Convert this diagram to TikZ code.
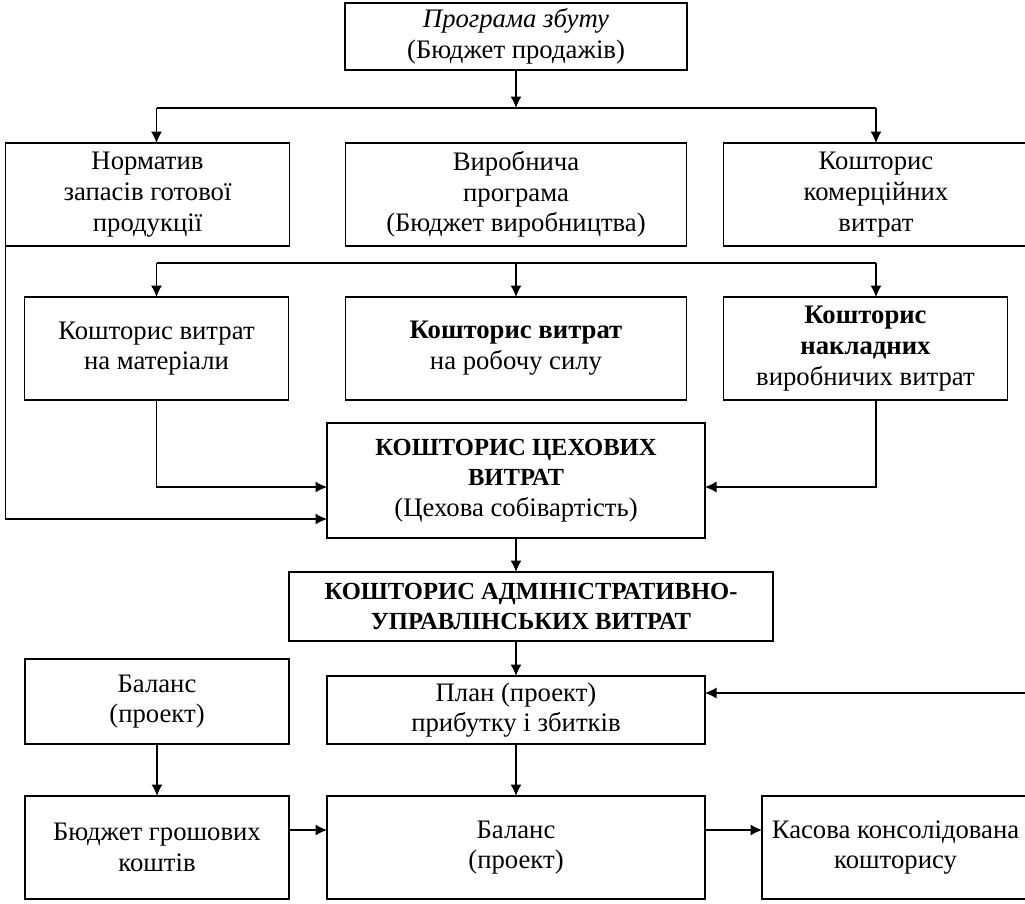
\documentclass[tikz,border=0pt]{standalone}
\usepackage{fontspec}
\setmainfont{Liberation Serif}
\usetikzlibrary{arrows.meta,positioning,calc}

\begin{document}
\begin{tikzpicture}[
    node distance=1cm and 1cm,
    box/.style={rectangle, draw=black, fill=white, align=center, inner sep=2pt, outer sep=0pt, line width=1.1pt, font=\fontsize{15.2}{17.5}\selectfont},
    >={Latex[length=2.3mm,width=2.2mm]},
    line width=0.65pt
]
\useasboundingbox (0,0) rectangle (20.5,-18.06);

% --- Top: sales programme
\node[box, minimum width=6.84cm, minimum height=1.34cm] (sales) at (10.32,-0.73) {\textit{Програма збуту}\\(Бюджет продажів)};

% --- Row 2
\node[box, minimum width=6.82cm, minimum height=2.06cm, below=1.46cm of sales] (prog) {Виробнича\\програма\\(Бюджет виробництва)};
\node[box, minimum width=5.68cm, minimum height=2.06cm, left=1.12cm of prog] (norm) {Норматив\\запасів готової\\продукції};
\node[box, minimum width=6.1cm, minimum height=2.06cm, right=0.74cm of prog] (comm) {Кошторис\\комерційних\\витрат};

% --- Row 3
\node[box, minimum width=6.82cm, minimum height=2.06cm, below=1.02cm of prog] (labour) {\textbf{Кошторис витрат}\\на робочу силу};
\node[box, minimum width=5.28cm, minimum height=2.06cm, left=1.14cm of labour] (mater) {Кошторис витрат\\на матеріали};
\node[box, minimum width=5.68cm, minimum height=2.06cm, right=0.74cm of labour] (overh) {\textbf{Кошторис}\\\textbf{накладних}\\виробничих витрат};

% --- Shop costs and admin costs
\node[box, minimum width=7.56cm, minimum height=2.3cm, below=0.46cm of labour] (shop) {\textbf{\fontsize{14}{17.5}\selectfont КОШТОРИС ЦЕХОВИХ}\\\textbf{\fontsize{14}{17.5}\selectfont ВИТРАТ}\\(Цехова собівартість)};
\node[box, minimum width=9.68cm, minimum height=1.38cm, below=0.68cm of shop, xshift=0.3cm, font=\fontsize{14}{17.5}\selectfont\bfseries] (admin) {КОШТОРИС АДМІНІСТРАТИВНО-\\УПРАВЛІНСЬКИХ ВИТРАТ};
\node[box, minimum width=7.56cm, minimum height=1.36cm, below=0.7cm of admin, xshift=-0.3cm] (plan) {План (проект)\\прибутку і збитків};

% --- Bottom row
\node[box, minimum width=7.56cm, minimum height=2.06cm, below=1.04cm of plan] (bal2) {Баланс\\(проект)};
\node[box, minimum width=5.28cm, minimum height=2.06cm, left=0.76cm of bal2] (cash) {Бюджет грошових\\коштів};
\node[box, minimum width=5.34cm, minimum height=2.06cm, right=1.14cm of bal2] (cons) {Касова консолідована\\кошторису};
\node[box, minimum width=5.28cm, minimum height=1.7cm, above=1.04cm of cash] (bal1) {Баланс\\(проект)};

% Fork points
\coordinate (fork1) at ([yshift=-0.76cm]sales.south);
\coordinate (fork2) at ([yshift=-0.34cm]prog.south);
\coordinate (redge) at (20.5,0);
\coordinate (pin) at ([yshift=0.34cm]plan.east);

% Arrows
\draw[->] (sales.south) -- (fork1);
\draw (fork1 -| mater.north) -- (fork1 -| comm.north);
\draw[->] (fork1 -| mater.north) -- (norm.north -| mater.north);
\draw[->] (fork1 -| comm.north) -- (comm.north);

\draw (fork2 -| mater.north) -- (fork2 -| comm.south);
\draw[->] (fork2 -| mater.north) -- (mater.north);
\draw[->] (fork2) -- (labour.north);
\draw[->] (fork2 -| comm.south) -- (overh.north -| comm.south);

\draw[->] (mater.south) |- ([yshift=-0.13cm]shop.west);
\draw[->] (overh.south -| comm.south) |- ([yshift=-0.13cm]shop.east);
\draw[->] (norm.south west) |- ([yshift=-0.77cm]shop.west);

\draw[->] (shop.south) -- (shop.south |- admin.north);
\draw[->] (plan.north |- admin.south) -- (plan.north);
\draw[->] (pin -| redge) -- (pin);

\draw[->] (bal1.south) -- (cash.north);
\draw[->] (plan.south) -- (bal2.north);
\draw[->] ([yshift=0.35cm]cash.east) -- ([yshift=0.35cm]bal2.west);
\draw[->] ([yshift=0.35cm]bal2.east) -- ([yshift=0.35cm]cons.west);

\end{tikzpicture}
\end{document}
